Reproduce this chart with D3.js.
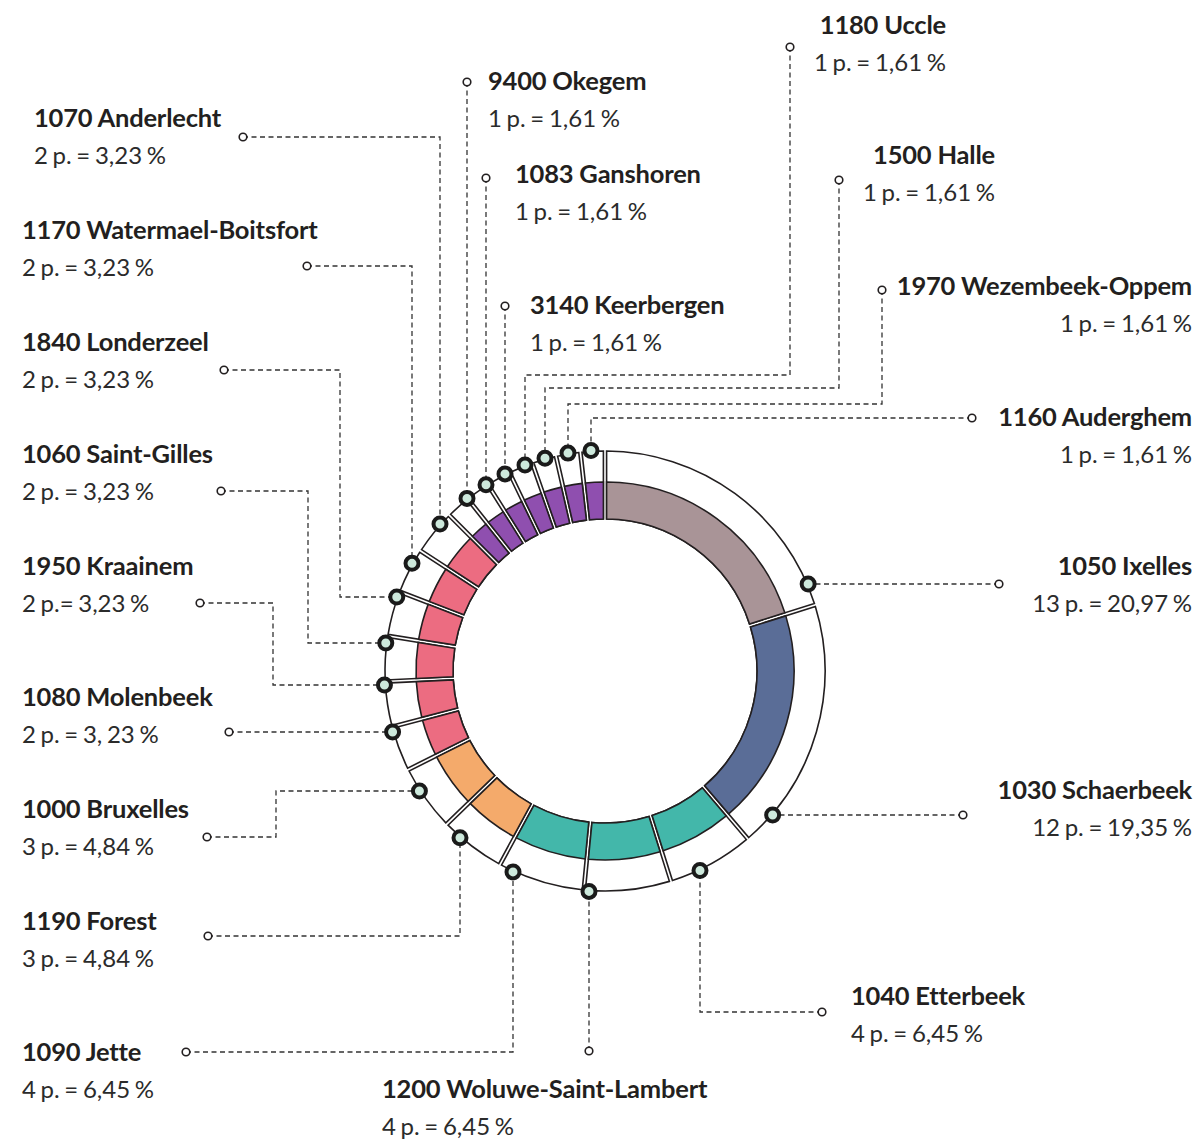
<!DOCTYPE html>
<html>
<head>
<meta charset="utf-8">
<script src="https://cdn.jsdelivr.net/npm/d3@7"></script>
<style>
  html, body { margin: 0; padding: 0; background: #fff; }
  svg { display: block; }
  text { font-family: Lato, "Open Sans", sans-serif; fill: #231f20; }
  .title { font-weight: 700; font-size: 25.5px; letter-spacing: -0.2px; }
  .value { font-weight: 400; font-size: 24px; word-spacing: -1.5px; fill: #2b2b2b; }
</style>
</head>
<body>
<svg id="chart" width="1198" height="1142"></svg>
<script>
// communes, clockwise from 12 o'clock
const categories = [
  '1050 Ixelles', '1030 Schaerbeek', '1040 Etterbeek', '1200 Woluwe-Saint-Lambert',
  '1090 Jette', '1190 Forest', '1000 Bruxelles', '1080 Molenbeek', '1950 Kraainem',
  '1060 Saint-Gilles', '1840 Londerzeel', '1170 Watermael-Boitsfort', '1070 Anderlecht',
  '9400 Okegem', '1083 Ganshoren', '3140 Keerbergen', '1180 Uccle', '1500 Halle',
  '1970 Wezembeek-Oppem', '1160 Auderghem'
];
const counts = [13, 12, 4, 4, 4, 3, 3, 2, 2, 2, 2, 2, 2, 1, 1, 1, 1, 1, 1, 1];
const valueLabels = [
  '13 p. = 20,97 %', '12 p. = 19,35 %', '4 p. = 6,45 %', '4 p. = 6,45 %',
  '4 p. = 6,45 %', '3 p. = 4,84 %', '3 p. = 4,84 %', '2 p. = 3, 23 %', '2 p.= 3,23 %',
  '2 p. = 3,23 %', '2 p. = 3,23 %', '2 p. = 3,23 %', '2 p. = 3,23 %',
  '1 p. = 1,61 %', '1 p. = 1,61 %', '1 p. = 1,61 %', '1 p. = 1,61 %', '1 p. = 1,61 %',
  '1 p. = 1,61 %', '1 p. = 1,61 %'
];
const groups = ['ixelles', 'schaerbeek', 'teal', 'teal', 'teal', 'orange', 'orange',
  'pink', 'pink', 'pink', 'pink', 'pink', 'pink',
  'purple', 'purple', 'purple', 'purple', 'purple', 'purple', 'purple'];
const groupColors = {
  ixelles: '#a99497', schaerbeek: '#5a6d97', teal: '#43b7aa',
  orange: '#f4aa6b', pink: '#ec6c81', purple: '#8f4faf'
};

// label placement: text position, leader path (from small end circle), last leg direction
const labelLayout = [
  { tx: 1192, ty: 566, anchor: 'end', pts: [[999, 584]], leg: 'h' },
  { tx: 1192, ty: 790, anchor: 'end', pts: [[963, 815]], leg: 'h' },
  { tx: 851, ty: 996, anchor: 'start', pts: [[822, 1012], [700, 1012]], leg: 'v' },
  { tx: 382, ty: 1089, anchor: 'start', pts: [[589, 1051]], leg: 'v' },
  { tx: 22, ty: 1052, anchor: 'start', pts: [[186, 1052], [513, 1052]], leg: 'v' },
  { tx: 22, ty: 921, anchor: 'start', pts: [[208, 936], [460, 936]], leg: 'v' },
  { tx: 22, ty: 809, anchor: 'start', pts: [[207, 837], [276, 837], [276, 791]], leg: 'h' },
  { tx: 22, ty: 697, anchor: 'start', pts: [[229, 732]], leg: 'h' },
  { tx: 22, ty: 566, anchor: 'start', pts: [[200, 603], [273, 603], [273, 685]], leg: 'h' },
  { tx: 22, ty: 454, anchor: 'start', pts: [[221, 491], [308, 491], [308, 643]], leg: 'h' },
  { tx: 22, ty: 342, anchor: 'start', pts: [[224, 370], [340, 370], [340, 597]], leg: 'h' },
  { tx: 22, ty: 230, anchor: 'start', pts: [[307, 266], [412, 266]], leg: 'v' },
  { tx: 34, ty: 118, anchor: 'start', pts: [[243, 137], [440, 137]], leg: 'v' },
  { tx: 488, ty: 81, anchor: 'start', pts: [[467, 82]], leg: 'v' },
  { tx: 515, ty: 174, anchor: 'start', pts: [[486, 178]], leg: 'v' },
  { tx: 530, ty: 305, anchor: 'start', pts: [[505, 306]], leg: 'v' },
  { tx: 946, ty: 25, anchor: 'end', pts: [[790, 47], [790, 375], [525, 375]], leg: 'v' },
  { tx: 995, ty: 155, anchor: 'end', pts: [[839, 180], [839, 388], [545, 388]], leg: 'v' },
  { tx: 1192, ty: 286, anchor: 'end', pts: [[882, 290], [882, 404], [568, 404]], leg: 'v' },
  { tx: 1192, ty: 417, anchor: 'end', pts: [[972, 418], [591, 418]], leg: 'v' }
];

const data = categories.map((name, i) => ({
  name, count: counts[i], value: valueLabels[i], color: groupColors[groups[i]], layout: labelLayout[i]
}));

const svg = d3.select('#chart');
const cx = 605, cy = 671;
const rInner = 152, rColor = 189, rOuter = 220, rDot = 221;
const stroke = '#231f20';

const pie = d3.pie().sort(null).value(d => d.count).startAngle(0).endAngle(2 * Math.PI).padAngle(0.016);
const arcs = pie(data);

const outerArc = d3.arc().innerRadius(rInner).outerRadius(rOuter).padRadius(200);
const colorArc = d3.arc().innerRadius(rInner).outerRadius(rColor).padRadius(200);

const g = svg.append('g').attr('transform', `translate(${cx},${cy})`);
g.selectAll('path.outer')
  .data(arcs)
  .enter()
  .append('path')
  .attr('class', 'outer')
  .attr('d', outerArc)
  .attr('fill', '#fff')
  .attr('stroke', stroke)
  .attr('stroke-width', 1.6);
g.selectAll('path.fill')
  .data(arcs)
  .enter()
  .append('path')
  .attr('class', 'fill')
  .attr('d', colorArc)
  .attr('fill', d => d.data.color)
  .attr('stroke', stroke)
  .attr('stroke-width', 1.6);

// where the last leg of a leader meets the ring
function dotPoint(l) {
  const last = l.pts[l.pts.length - 1];
  if (l.leg === 'h') {
    const dy = last[1] - cy;
    const dx = Math.sqrt(rDot * rDot - dy * dy) * Math.sign(last[0] - cx);
    return [cx + dx, last[1]];
  }
  const dx = last[0] - cx;
  const dy = Math.sqrt(rDot * rDot - dx * dx) * Math.sign(last[1] - cy);
  return [last[0], cy + dy];
}

const line = d3.line();
const leaders = svg.append('g');
leaders.selectAll('path')
  .data(data)
  .enter()
  .append('path')
  .attr('d', d => line([...d.layout.pts, dotPoint(d.layout)]))
  .attr('fill', 'none')
  .attr('stroke', '#333')
  .attr('stroke-width', 1.3)
  .attr('stroke-dasharray', '5,3.5');

leaders.selectAll('circle.end')
  .data(data)
  .enter()
  .append('circle')
  .attr('class', 'end')
  .attr('cx', d => d.layout.pts[0][0])
  .attr('cy', d => d.layout.pts[0][1])
  .attr('r', 3.8)
  .attr('fill', '#fff')
  .attr('stroke', stroke)
  .attr('stroke-width', 1.6);

leaders.selectAll('circle.dot')
  .data(data)
  .enter()
  .append('circle')
  .attr('class', 'dot')
  .attr('cx', d => dotPoint(d.layout)[0])
  .attr('cy', d => dotPoint(d.layout)[1])
  .attr('r', 6.5)
  .attr('fill', '#cde9dc')
  .attr('stroke', '#1a1a1a')
  .attr('stroke-width', 4);

const labels = svg.append('g');
labels.selectAll('text.title')
  .data(data)
  .enter()
  .append('text')
  .attr('class', 'title')
  .attr('x', d => d.layout.tx)
  .attr('y', d => d.layout.ty)
  .attr('dy', '0.35em')
  .attr('text-anchor', d => d.layout.anchor)
  .text(d => d.name);
labels.selectAll('text.value')
  .data(data)
  .enter()
  .append('text')
  .attr('class', 'value')
  .attr('x', d => d.layout.tx)
  .attr('y', d => d.layout.ty + 38)
  .attr('dy', '0.35em')
  .attr('text-anchor', d => d.layout.anchor)
  .text(d => d.value);
</script>
</body>
</html>
